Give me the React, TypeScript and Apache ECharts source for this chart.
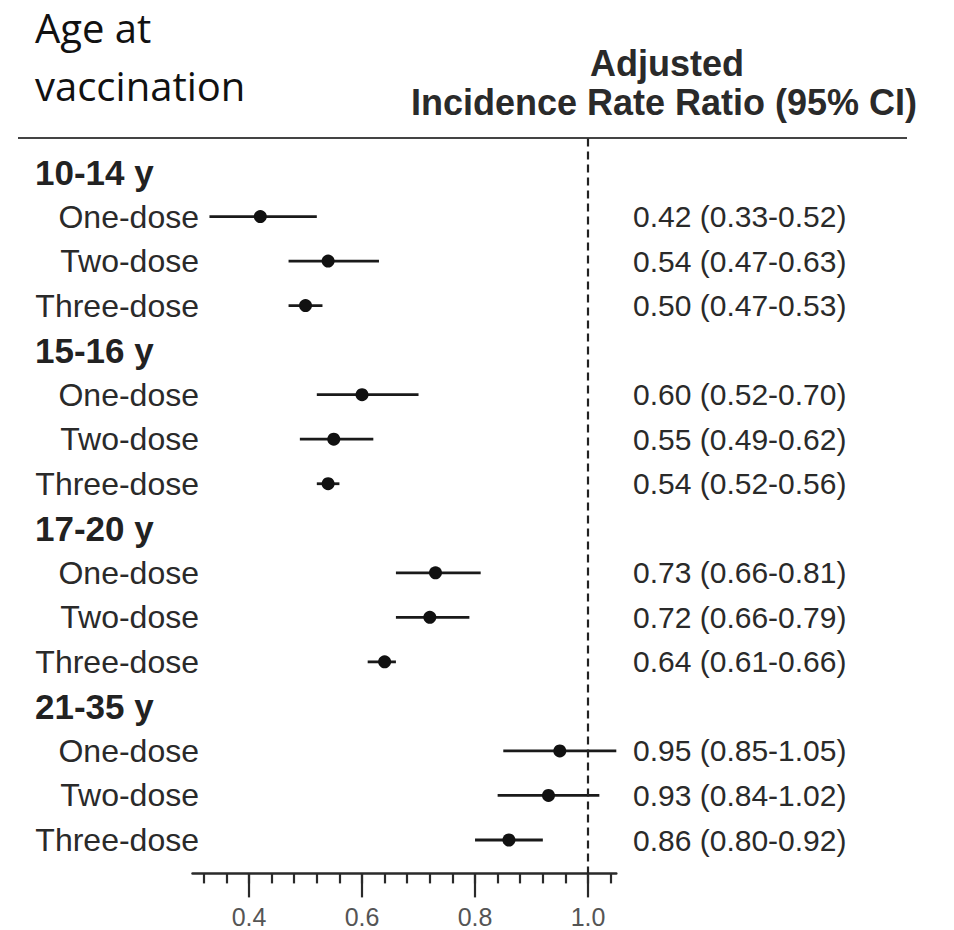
import React, { useEffect, useRef } from "react";
import * as echarts from "echarts";

// Age groups and dose schedules shown as rows of the forest plot
const ageGroups = ["10-14 y", "15-16 y", "17-20 y", "21-35 y"];
const doseLabels = ["One-dose", "Two-dose", "Three-dose"];

// Adjusted incidence rate ratios with 95% confidence limits (group by group, one/two/three doses)
const irr = [0.42, 0.54, 0.5, 0.6, 0.55, 0.54, 0.73, 0.72, 0.64, 0.95, 0.93, 0.86];
const ciLower = [0.33, 0.47, 0.47, 0.52, 0.49, 0.52, 0.66, 0.66, 0.61, 0.85, 0.84, 0.8];
const ciUpper = [0.52, 0.63, 0.53, 0.7, 0.62, 0.56, 0.81, 0.79, 0.66, 1.05, 1.02, 0.92];

// X axis ticks
const minorTicks = [0.32, 0.36, 0.4, 0.44, 0.48, 0.52, 0.56, 0.6, 0.64, 0.68, 0.72, 0.76, 0.8, 0.84, 0.88, 0.92, 0.96, 1.0, 1.04];
const majorTicks = [0.4, 0.6, 0.8, 1.0];
const referenceValue = 1.0;

const X_MIN = 0.3;
const X_MAX = 1.05;

const FONT = "'Liberation Sans', Arial, Helvetica, sans-serif";
const TITLE_FONT = "40px 'Open Sans', 'Noto Sans', sans-serif";

export default function App() {
  const ref = useRef<HTMLDivElement>(null);

  useEffect(() => {
    if (!ref.current) return;
    const chart = echarts.init(ref.current, undefined, { renderer: "svg" });

    const rowsPerGroup = doseLabels.length + 1;
    const headerRows = ageGroups.map((_, g) => g * rowsPerGroup);
    const doseRows: number[] = [];
    const doseRowText: Record<number, string> = {};
    const valueRowText: Record<number, string> = {};
    const headerRowText: Record<number, string> = {};
    ageGroups.forEach((name, g) => {
      headerRowText[g * rowsPerGroup] = name;
    });

    const ciData: number[][] = [];
    const pointData: number[][] = [];
    irr.forEach((v, i) => {
      const g = Math.floor(i / doseLabels.length);
      const d = i % doseLabels.length;
      const row = g * rowsPerGroup + 1 + d;
      doseRows.push(row);
      doseRowText[row] = doseLabels[d];
      valueRowText[row] = `${v.toFixed(2)} (${ciLower[i].toFixed(2)}-${ciUpper[i].toFixed(2)})`;
      ciData.push([ciLower[i], ciUpper[i], row]);
      pointData.push([v, row]);
    });
    const lastRow = ageGroups.length * rowsPerGroup - 1;

    const yBase = {
      type: "value" as const,
      inverse: true,
      min: -0.75,
      max: lastRow + 0.75,
      axisLine: { show: false, onZero: false },
      axisTick: { show: false },
      splitLine: { show: false },
    };

    const option: any = {
      animation: false,
      backgroundColor: "#ffffff",
      grid: { left: 192.5, right: 337.7, top: 138.6, bottom: 56.6 },
      xAxis: [
        {
          type: "value",
          position: "bottom",
          min: X_MIN,
          max: X_MAX,
          axisLine: { show: true, onZero: false, lineStyle: { color: "#2a2a2a", width: 2.5 } },
          axisTick: { show: true, customValues: minorTicks, length: 10, lineStyle: { color: "#2a2a2a", width: 2.2 } },
          axisLabel: { show: false },
          splitLine: { show: false },
        },
        {
          type: "value",
          position: "bottom",
          min: X_MIN,
          max: X_MAX,
          axisLine: { show: false, onZero: false },
          axisTick: { show: true, customValues: majorTicks, length: 24, lineStyle: { color: "#2a2a2a", width: 2.2 } },
          axisLabel: {
            show: true,
            customValues: majorTicks,
            formatter: (v: number) => v.toFixed(1),
            fontFamily: FONT,
            fontSize: 25,
            color: "#555",
            margin: 31,
          },
          splitLine: { show: false },
        },
      ],
      yAxis: [
        {
          ...yBase,
          position: "left",
          axisLabel: {
            customValues: headerRows,
            formatter: (v: number) => headerRowText[Math.round(v)] || "",
            align: "left",
            margin: 157.5,
            fontFamily: FONT,
            fontSize: 35,
            fontWeight: "bold",
            color: "#222",
          },
        },
        {
          ...yBase,
          position: "left",
          axisLabel: {
            customValues: doseRows,
            formatter: (v: number) => doseRowText[Math.round(v)] || "",
            align: "right",
            margin: -6.5,
            fontFamily: FONT,
            fontSize: 32,
            color: "#2a2a2a",
          },
        },
        {
          ...yBase,
          position: "right",
          axisLabel: {
            customValues: doseRows,
            formatter: (v: number) => valueRowText[Math.round(v)] || "",
            align: "left",
            margin: 16.7,
            fontFamily: FONT,
            fontSize: 30,
            color: "#2a2a2a",
          },
        },
      ],
      graphic: [
        {
          type: "text",
          x: 35,
          y: 27,
          style: {
            text: "Age at",
            font: TITLE_FONT,
            fill: "#111",
            textVerticalAlign: "middle",
          },
        },
        {
          type: "text",
          x: 35,
          y: 85,
          style: {
            text: "vaccination",
            font: TITLE_FONT,
            fill: "#111",
            textVerticalAlign: "middle",
          },
        },
        {
          type: "text",
          x: 667,
          y: 63,
          style: {
            text: "Adjusted",
            font: `bold 36px ${FONT}`,
            fill: "#2a2a2a",
            textAlign: "center",
            textVerticalAlign: "middle",
          },
        },
        {
          type: "text",
          x: 664,
          y: 102,
          style: {
            text: "Incidence Rate Ratio (95% CI)",
            font: `bold 36px ${FONT}`,
            fill: "#2a2a2a",
            textAlign: "center",
            textVerticalAlign: "middle",
          },
        },
        {
          type: "line",
          shape: { x1: 18, y1: 138, x2: 907, y2: 138 },
          style: { stroke: "#444", lineWidth: 2 },
        },
      ],
      series: [
        {
          name: "95% CI",
          type: "custom",
          xAxisIndex: 0,
          yAxisIndex: 0,
          encode: { x: [0, 1], y: 2 },
          data: ciData,
          renderItem: (params: any, api: any) => {
            const p1 = api.coord([api.value(0), api.value(2)]);
            const p2 = api.coord([api.value(1), api.value(2)]);
            return {
              type: "line",
              shape: { x1: p1[0], y1: p1[1], x2: p2[0], y2: p2[1] },
              style: { stroke: "#1a1a1a", lineWidth: 2.8 },
            };
          },
        },
        {
          name: "IRR",
          type: "scatter",
          xAxisIndex: 0,
          yAxisIndex: 0,
          symbol: "circle",
          symbolSize: 13,
          itemStyle: { color: "#111", opacity: 1 },
          data: pointData,
          markLine: {
            silent: true,
            symbol: "none",
            label: { show: false },
            lineStyle: { color: "#222", width: 2.2, type: [8, 5] },
            data: [{ xAxis: referenceValue }],
          },
        },
      ],
    };

    chart.setOption(option);
    return () => chart.dispose();
  }, []);

  return (
    <div
      ref={ref}
      style={{ position: "absolute", left: 0, top: 0, width: 954, height: 930, background: "#fff" }}
    />
  );
}
